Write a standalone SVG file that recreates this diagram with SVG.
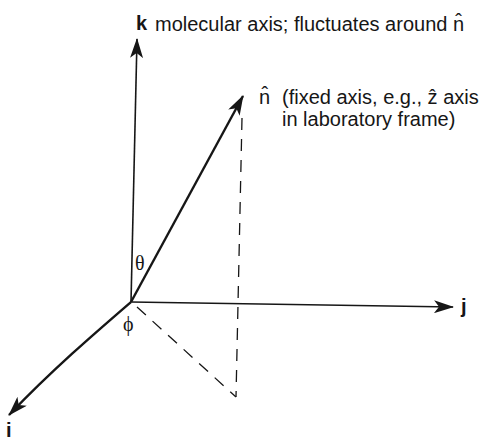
<svg xmlns="http://www.w3.org/2000/svg" width="480" height="440" viewBox="0 0 480 440">
<style>
.ax{fill:none;stroke:#161616;stroke-width:1.6}
.n{fill:none;stroke:#161616;stroke-width:2.4}
.d{fill:none;stroke:#161616;stroke-width:1.3;stroke-dasharray:12 9}
.t{font-family:"Liberation Sans",Arial,sans-serif;font-size:20px;fill:#161616}
.b{font-family:"Liberation Sans",Arial,sans-serif;font-size:20px;font-weight:bold;fill:#161616}
.g{font-family:"Liberation Serif","DejaVu Serif","Times New Roman",serif;font-size:20px;fill:#161616}
</style>
<defs>
<marker id="ah" viewBox="0 0 20 13" refX="19" refY="6.5" markerWidth="20" markerHeight="13" markerUnits="userSpaceOnUse" orient="auto">
<path d="M0,0 L20,6.5 L0,13 L5,6.5 Z" fill="#161616"/>
</marker>
</defs>
<rect width="480" height="440" fill="#fff"/>
<g id="connectors">
<path class="ax" d="M131,302 L137,39" marker-end="url(#ah)"/>
<path class="n" d="M131,302 L243,96" marker-end="url(#ah)"/>
<path class="ax" d="M131,302 L453,307" marker-end="url(#ah)"/>
<path class="n" d="M131,302 C95,333 52,370 9,415" marker-end="url(#ah)"/>
<path class="d" d="M242,118 L236,397"/>
<path class="d" d="M137,307 L236,397"/>
</g>
<g id="k-label">
<text class="b" x="136" y="30">k</text>
<text class="t" x="155" y="31">molecular axis; fluctuates around n̂</text>
</g>
<g id="n-label">
<text class="t" x="259" y="104">n̂</text>
<text class="t" x="282" y="104">(fixed axis, e.g., ẑ axis</text>
<text class="t" x="282" y="126">in laboratory frame)</text>
</g>
<g id="angles">
<text class="g" x="135" y="270">θ</text>
<text class="g" x="123" y="331">ϕ</text>
</g>
<g id="j-label"><text class="b" x="461" y="313">j</text></g>
<g id="i-label"><text class="b" x="6" y="437">i</text></g>
</svg>
